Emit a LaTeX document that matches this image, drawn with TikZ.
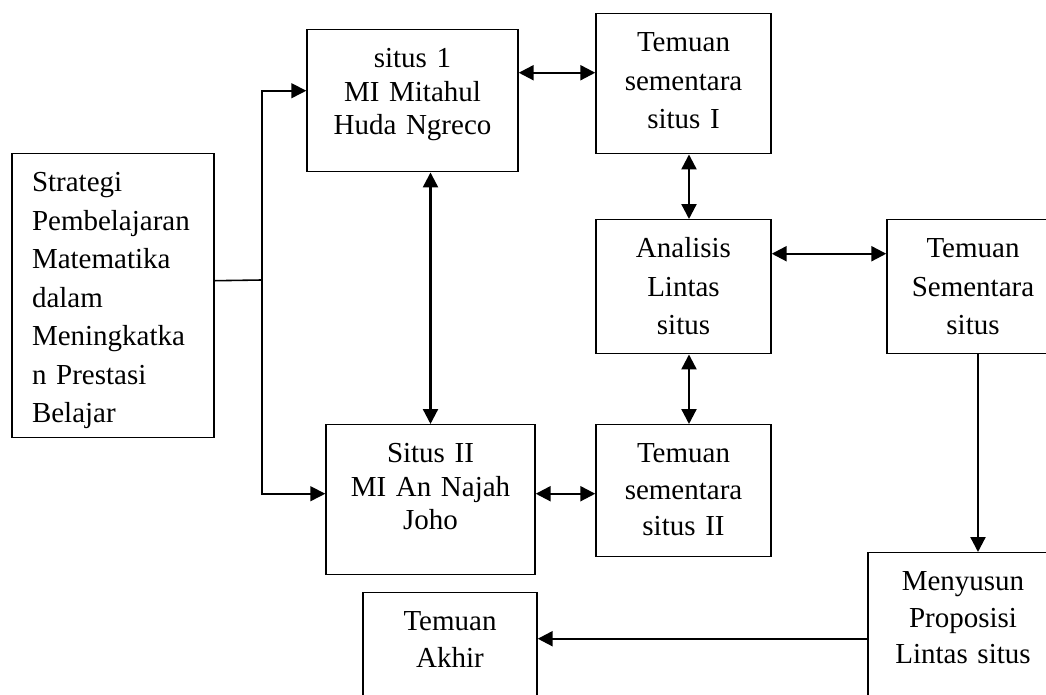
\documentclass[tikz,border=0pt]{standalone}
\usepackage{fontspec}
\setmainfont{Liberation Serif}
\usetikzlibrary{positioning,arrows.meta}

\begin{document}
\begin{tikzpicture}[
    x=0.02cm, y=-0.02cm,
    box/.style={draw, line width=0.85pt, anchor=north, inner xsep=0pt, inner ysep=0pt,
                align=center, text height=0.76cm, font=\fontsize{16.5}{20.8}\selectfont},
    wide/.style={font=\fontsize{16.5}{21.9}\selectfont},
    tight/.style={font=\fontsize{16.5}{19.1}\selectfont},
    link/.style={line width=0.9pt},
    arr/.style={line width=1.3pt, -{Triangle[length=8.5pt,width=8.5pt]}},
    darr/.style={line width=1.3pt, {Triangle[length=8.5pt,width=8.5pt]}-{Triangle[length=8.5pt,width=8.5pt]}}
    ]
    \useasboundingbox (0,0) rectangle (1046,695);
    \clip (0,0) rectangle (1046,695);

    \node [box, wide, align=left, inner xsep=0.4cm, text width=3.24cm, text depth=4.92cm] (strat) at (113,153)
        {Strategi\\Pembelajaran\\Matematika\\dalam\\Meningkatka\\n Prestasi\\Belajar};
    \node [box, tight, text width=4.22cm, text depth=2.08cm] (situsA) at (412.5,29) {situs 1\\MI Mitahul\\Huda Ngreco};
    \node [box, wide, text width=3.5cm, text depth=2.04cm] (temuanA) at (683.5,13) {Temuan\\sementara\\situs I};
    \node [box, wide, text width=3.5cm, text depth=1.92cm] (analisis) at (683.5,219) {Analisis\\Lintas\\situs};
    \node [box, wide, text width=3.44cm, text depth=1.92cm] (temuanS) at (973,219) {Temuan\\Sementara\\situs};
    \node [box, tight, text width=4.18cm, text depth=2.24cm] (situsB) at (430.5,424) {Situs II\\MI An Najah\\Joho};
    \node [box, text width=3.5cm, text depth=1.88cm] (temuanB) at (683.5,424) {Temuan\\sementara\\situs II};
    \node [box, text width=3.8cm, text depth=3cm] (proposisi) at (963,552) {Menyusun\\Proposisi\\Lintas situs};
    \node [box, text width=3.48cm, text depth=3cm] (akhir) at (450,592) {Temuan\\Akhir};

    % split towards both sites
    \coordinate (split) at (262,280);
    \draw [link] ([yshift=0.3cm]strat.east) -- (split);
    \draw [arr, link] (split) |- ([yshift=0.2cm]situsA.west);
    \draw [arr, link] (split) |- ([yshift=0.12cm]situsB.west);

    \draw [darr] ([yshift=0.56cm]situsA.east) -- ([yshift=0.56cm]situsA.east -| temuanA.west);
    \draw [darr] (situsB.north) -- (situsB.north |- situsA.south);
    \draw [darr] ([yshift=0.12cm]situsB.east) -- ([yshift=0.12cm]situsB.east -| temuanB.west);
    \draw [darr] ([xshift=0.11cm]temuanA.south) -- ([xshift=0.11cm]temuanA.south |- analisis.north);
    \draw [darr] ([xshift=0.11cm]analisis.south) -- ([xshift=0.11cm]analisis.south |- temuanB.north);
    \draw [darr] ([yshift=0.66cm]analisis.east) -- ([yshift=0.66cm]analisis.east -| temuanS.west);

    \draw [arr] ([xshift=0.1cm]temuanS.south) -- ([xshift=0.1cm]temuanS.south |- proposisi.north);
    \draw [arr] ([yshift=0.16cm]proposisi.west) -- ([yshift=0.16cm]proposisi.west -| akhir.east);
\end{tikzpicture}
\end{document}
